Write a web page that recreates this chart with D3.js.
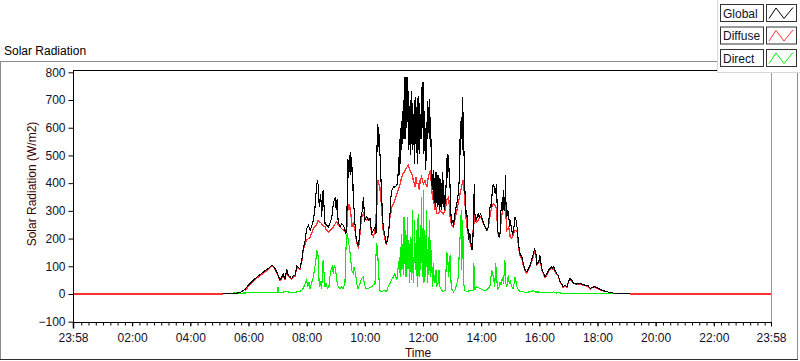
<!DOCTYPE html>
<html><head><meta charset="utf-8">
<script src="https://cdn.jsdelivr.net/npm/d3@7"></script>
<style>body{margin:0;background:#fff}svg{display:block}</style>
</head><body>
<svg id="chart" width="800" height="361"></svg>
<script>
// ---- data (minutes since 00:00; axis spans 23:58 of the previous day to 23:58) ----
const xDomain = [-2, 1438];
const xTickMinutes = [-2, 120, 240, 360, 480, 600, 720, 840, 960, 1080, 1200, 1320, 1438];
const xTickLabels = ["23:58","02:00","04:00","06:00","08:00","10:00","12:00","14:00","16:00","18:00","20:00","22:00","23:58"];
const yDomain = [-100, 800];
const yTicks = [-100, 0, 100, 200, 300, 400, 500, 600, 700, 800];
const seriesNames = ["Global", "Diffuse", "Direct"];
const seriesColors = ["#000000", "#ff3030", "#00f000"];

const globalSeries = [[307,2],[332,3],[342,4],[346,8],[353,17],[360,32],[367,44],[374,56],[380,65],[387,74],[394,84],[401,92],[408,104],[411,100],[415,92],[418,80],[422,65],[425,50],[429,62],[432,72],[435,53],[439,89],[442,68],[446,62],[449,56],[453,68],[456,68],[460,101],[463,96],[466,92],[470,122],[473,164],[477,194],[480,236],[484,248],[487,230],[490,242],[494,266],[497,308],[499,356],[502,410],[504,392],[506,314],[509,362],[511,278],[514,374],[518,254],[521,248],[525,242],[528,254],[532,278],[535,326],[539,350],[541,302],[543,344],[545,260],[549,242],[552,254],[556,248],[559,230],[561,218],[563,278],[565,488],[566,420],[567,482],[568,440],[569,500],[570,430],[571,512],[572,470],[573,494],[574,420],[575,458],[576,350],[578,302],[581,218],[583,194],[585,182],[587,176],[589,206],[590,230],[592,278],[595,302],[597,350],[599,290],[600,266],[604,278],[607,266],[611,272],[614,218],[618,230],[621,242],[623,218],[625,506],[626,614],[627,540],[628,602],[629,530],[630,578],[631,518],[634,386],[636,302],[638,242],[642,206],[644,182],[647,194],[650,242],[652,290],[654,350],[656,374],[659,386],[662,386],[666,392],[668,410],[669,446],[670,494],[671,430],[672,560],[673,470],[674,600],[675,520],[676,626],[677,540],[678,660],[679,580],[680,700],[681,560],[682,662],[683,782],[684,560],[685,698],[686,600],[687,782],[688,620],[689,700],[690,734],[691,520],[692,680],[693,560],[694,700],[695,500],[696,660],[697,734],[698,520],[699,690],[700,560],[701,650],[702,470],[703,680],[704,710],[705,540],[706,640],[707,674],[708,470],[709,620],[710,716],[711,520],[712,690],[713,506],[714,600],[715,650],[716,560],[717,746],[718,600],[719,700],[720,764],[721,758],[722,506],[723,660],[724,614],[725,500],[726,446],[727,620],[728,566],[729,698],[730,560],[731,674],[732,580],[733,704],[734,560],[735,626],[736,638],[737,480],[738,398],[740,374],[741,446],[742,338],[743,420],[744,330],[745,410],[746,314],[747,440],[748,330],[749,400],[750,314],[751,430],[752,320],[753,390],[754,302],[755,420],[756,314],[757,380],[758,302],[759,400],[760,326],[761,440],[762,314],[763,380],[764,302],[765,350],[766,326],[769,446],[770,506],[771,420],[772,500],[773,494],[774,430],[775,446],[776,374],[778,278],[779,254],[782,266],[783,242],[785,278],[787,302],[790,326],[792,350],[794,386],[795,422],[796,560],[797,500],[798,626],[799,560],[800,638],[801,520],[802,710],[803,600],[804,566],[805,480],[806,410],[808,290],[810,302],[813,230],[814,194],[817,218],[819,182],[821,158],[823,194],[824,278],[826,398],[827,290],[829,266],[832,278],[834,290],[836,278],[839,290],[841,278],[845,254],[848,242],[852,230],[855,242],[857,290],[859,326],[861,314],[863,374],[865,398],[867,386],[869,362],[872,398],[874,230],[877,206],[879,218],[881,302],[883,326],[884,350],[885,300],[886,374],[887,320],[888,350],[889,300],[890,428],[891,338],[893,278],[895,302],[897,278],[899,242],[900,266],[903,230],[905,218],[907,230],[909,266],[910,278],[912,266],[914,242],[916,206],[918,170],[920,146],[924,134],[927,110],[931,86],[934,80],[938,92],[941,104],[944,122],[948,146],[950,164],[953,146],[955,110],[959,116],[961,140],[962,128],[965,92],[969,74],[972,62],[976,74],[979,86],[982,92],[986,98],[988,92],[990,98],[992,86],[996,74],[999,68],[1003,44],[1006,38],[1009,26],[1013,32],[1017,26],[1020,44],[1023,56],[1027,50],[1030,40],[1034,38],[1037,36],[1040,38],[1047,36],[1054,32],[1061,29],[1065,20],[1068,24],[1075,26],[1078,24],[1082,20],[1085,17],[1089,14],[1096,10],[1102,7],[1109,5],[1116,2],[1123,2],[1137,2],[1147,2]];

const diffuseSeries = [[-2,0],[307,0],[330,null],[353,12],[360,28],[367,40],[374,52],[380,61],[387,70],[394,80],[401,88],[408,100],[411,98],[415,88],[418,76],[422,62],[425,48],[429,58],[432,68],[435,50],[439,84],[442,64],[446,58],[449,52],[453,64],[456,64],[460,96],[463,92],[466,88],[470,118],[473,158],[477,182],[480,194],[484,200],[487,204],[490,218],[494,236],[497,242],[500,248],[504,266],[507,260],[511,254],[514,245],[518,242],[521,230],[525,224],[528,230],[532,236],[535,242],[539,254],[542,260],[545,248],[549,242],[552,236],[556,230],[559,224],[563,242],[565,302],[567,326],[569,314],[572,278],[574,242],[576,254],[580,230],[583,188],[587,164],[589,194],[591,242],[594,278],[597,290],[600,278],[604,266],[607,272],[611,266],[614,218],[618,206],[621,230],[625,326],[627,410],[629,398],[631,386],[634,326],[636,278],[638,230],[642,194],[644,182],[648,206],[652,278],[656,314],[659,326],[662,338],[666,362],[669,374],[673,398],[676,422],[679,434],[683,446],[687,458],[690,464],[693,446],[697,434],[700,410],[704,386],[706,422],[707,398],[710,398],[713,374],[714,410],[717,422],[721,398],[724,410],[728,386],[731,422],[735,446],[736,434],[738,374],[740,350],[741,338],[743,326],[745,302],[747,314],[748,290],[752,290],[755,302],[759,296],[762,290],[766,302],[769,338],[773,350],[776,278],[779,248],[783,242],[787,278],[790,302],[794,338],[798,374],[801,398],[803,410],[806,350],[808,290],[811,242],[814,206],[818,182],[821,158],[824,242],[827,278],[831,260],[834,266],[838,278],[841,272],[845,254],[848,242],[852,230],[855,242],[859,290],[862,314],[865,326],[869,320],[872,308],[874,224],[877,206],[879,218],[882,278],[886,314],[890,320],[893,230],[897,242],[900,206],[903,200],[906,212],[910,230],[914,230],[917,170],[920,140],[924,128],[927,104],[931,82],[934,76],[938,88],[941,98],[944,116],[948,138],[950,156],[953,140],[955,106],[959,110],[961,134],[962,122],[965,88],[969,70],[972,60],[976,70],[979,82],[982,88],[986,94],[988,88],[990,94],[992,82],[996,70],[999,64],[1003,42],[1006,36],[1009,24],[1013,30],[1017,24],[1020,42],[1023,53],[1027,48],[1030,38],[1034,36],[1037,34],[1040,36],[1047,34],[1054,30],[1061,27],[1065,18],[1068,22],[1075,24],[1078,22],[1082,18],[1085,15],[1089,13],[1096,9],[1100,8],[1120,null],[1147,0],[1438,0]];

const directSeries = [[328,5],[342,3],[360,4],[380,5],[419,5],[421,26],[423,6],[439,8],[449,6],[466,8],[470,14],[473,20],[477,38],[480,50],[482,26],[485,44],[487,20],[490,38],[494,62],[496,86],[499,122],[501,158],[504,134],[506,26],[507,50],[511,20],[514,122],[516,74],[518,26],[520,38],[523,20],[526,26],[528,62],[530,86],[533,98],[535,74],[537,104],[540,86],[542,50],[545,26],[549,20],[552,26],[555,20],[559,38],[562,206],[564,218],[567,182],[569,158],[573,86],[576,74],[578,98],[581,74],[583,38],[586,20],[590,38],[593,56],[597,62],[599,38],[602,20],[607,20],[614,26],[617,32],[621,38],[624,182],[626,170],[629,62],[631,14],[634,8],[641,14],[645,8],[648,26],[652,38],[655,50],[659,62],[662,74],[666,50],[669,98],[672,134],[673,60],[674,170],[675,86],[676,218],[677,90],[678,170],[679,182],[680,70],[681,278],[682,110],[683,134],[684,230],[685,60],[686,86],[687,200],[688,278],[689,90],[690,134],[691,194],[692,40],[693,62],[694,160],[695,206],[696,50],[697,86],[698,302],[699,120],[700,38],[701,62],[702,180],[703,266],[704,100],[705,86],[706,200],[707,230],[708,26],[709,150],[710,290],[711,110],[712,62],[713,180],[714,206],[715,86],[716,240],[717,350],[718,120],[719,62],[720,200],[721,374],[722,38],[723,150],[724,230],[725,60],[726,86],[727,302],[728,140],[729,38],[730,120],[731,206],[732,70],[733,110],[734,266],[735,100],[736,62],[737,120],[738,158],[739,50],[740,26],[741,86],[742,110],[743,40],[744,70],[745,38],[747,86],[748,26],[751,38],[753,86],[755,26],[758,14],[762,8],[766,14],[769,152],[771,134],[773,62],[776,140],[778,38],[780,14],[783,8],[786,14],[790,38],[793,62],[795,158],[797,218],[799,302],[800,86],[802,266],[804,38],[806,14],[811,8],[818,14],[824,14],[825,110],[827,14],[830,26],[837,20],[844,14],[851,14],[858,26],[862,86],[865,62],[868,26],[870,110],[874,14],[877,26],[879,44],[881,32],[884,62],[886,38],[888,86],[889,122],[891,38],[893,26],[896,68],[898,38],[900,50],[903,26],[906,20],[908,38],[910,62],[912,44],[914,26],[917,14],[920,8],[923,10],[930,6],[937,7],[944,10],[948,12],[951,7],[958,7],[972,6],[985,5],[990,8],[995,3],[998,7],[1002,5],[1006,2],[1123,2]];

// ---- drawing ----
const svg = d3.select("#chart");
const FONT = "'Liberation Sans', Arial, sans-serif";
const plot = {left: 73, right: 772, top: 70, bottom: 322};
const x = d3.scaleLinear().domain(xDomain).range([73, 771]);
const y = d3.scaleLinear().domain(yDomain).range([321.7, 72.3]);

// outer frame
svg.append("rect").attr("x",0.5).attr("y",61.5).attr("width",797).attr("height",298)
  .attr("fill","#fff").attr("stroke","#8c8c8c");
svg.append("line").attr("x1",0).attr("x2",798).attr("y1",359.5).attr("y2",359.5).attr("stroke","#303030");

svg.append("text").attr("x",4).attr("y",55).text("Solar Radiation")
  .attr("font-family",FONT).attr("font-size",12).attr("fill","#000");

// plot frame
svg.append("line").attr("x1",plot.left).attr("x2",plot.right).attr("y1",plot.top+0.5).attr("y2",plot.top+0.5).attr("stroke","#000");
svg.append("line").attr("x1",plot.right-0.5).attr("x2",plot.right-0.5).attr("y1",plot.top).attr("y2",plot.bottom).attr("stroke","#999");

svg.append("clipPath").attr("id","clip").append("rect")
  .attr("x",plot.left+1).attr("y",plot.top+1).attr("width",plot.right-plot.left-2).attr("height",plot.bottom-plot.top-1);

const line = d3.line().defined(d => d[1] !== null).x(d => x(d[0])).y(d => y(d[1]));
const g = svg.append("g").attr("clip-path","url(#clip)");
const order = [[diffuseSeries,1],[directSeries,2],[globalSeries,0]];
order.forEach(([data,i]) => {
  g.append("path").datum(data).attr("d",line).attr("fill","none")
    .attr("stroke",seriesColors[i]).attr("stroke-width",i===1?1.3:1.1)
    .attr("shape-rendering","crispEdges");
});

// y axis
const yAxis = svg.append("g").attr("transform",`translate(${plot.left+0.5},0)`)
  .call(d3.axisLeft(y).tickValues(yTicks).tickSize(5).tickSizeOuter(0).tickPadding(3));
yAxis.select(".domain").attr("d",`M0,${plot.top}V${plot.bottom}`).attr("stroke","#000");
yAxis.selectAll("text").attr("font-family",FONT).attr("font-size",12).attr("fill","#10102a");

// x axis
const xAxis = svg.append("g").attr("transform",`translate(0,${plot.bottom+0.5})`)
  .call(d3.axisBottom(x).tickValues(xTickMinutes).tickFormat((d,i)=>xTickLabels[i]).tickSize(4).tickSizeOuter(0).tickPadding(7));
xAxis.select(".domain").attr("d",`M${plot.left},0H${plot.right}`).attr("stroke","#000");
xAxis.selectAll("text").attr("font-family",FONT).attr("font-size",12).attr("fill","#10102a");
const minor = d3.range(15, 1438, 15);
svg.append("g").attr("transform",`translate(0,${plot.bottom+0.5})`)
  .call(d3.axisBottom(x).tickValues(minor).tickFormat("").tickSize(3).tickSizeOuter(0))
  .select(".domain").remove();
xAxis.select(".tick line").attr("y2",6).attr("stroke-width",1.5);

// axis titles
svg.append("text").attr("transform","translate(36,184) rotate(-90)").attr("text-anchor","middle")
  .text("Solar Radiation (W/m2)").attr("font-family",FONT).attr("font-size",12).attr("fill","#3a0000");
svg.append("text").attr("x",418).attr("y",357).attr("text-anchor","middle")
  .text("Time").attr("font-family",FONT).attr("font-size",12).attr("fill","#3a0000");

// legend
const lg = svg.append("g");
lg.append("rect").attr("x",717.5).attr("y",-1).attr("width",90).attr("height",73.5).attr("fill","#fff").attr("stroke","#d8d8d8");
seriesNames.forEach((name,i) => {
  const top = 4.5 + i*22.5;
  lg.append("rect").attr("x",720.5).attr("y",top).attr("width",43).attr("height",17).attr("fill","#fff").attr("stroke","#333");
  lg.append("text").attr("x",723).attr("y",top+13).text(name)
    .attr("font-family",FONT).attr("font-size",12).attr("fill","#10102a");
  lg.append("rect").attr("x",766.5).attr("y",top).attr("width",30).attr("height",17).attr("fill","#fff").attr("stroke","#333");
  const zig = [[769,top+14],[776,top+3.5],[784,top+14],[793,top+3]];
  lg.append("path").attr("d",d3.line()(zig)).attr("fill","none").attr("stroke",seriesColors[i]).attr("stroke-width",1);
});
</script>
</body></html>
